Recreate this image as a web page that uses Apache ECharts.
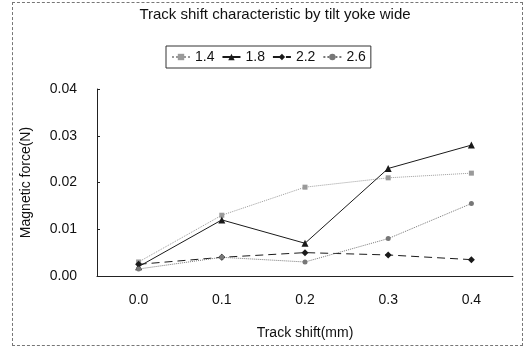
<!DOCTYPE html>
<html>
<head>
<meta charset="utf-8">
<script src="https://cdn.jsdelivr.net/npm/echarts@6/dist/echarts.min.js"></script>
<style>
  html, body { margin: 0; padding: 0; background: #fff; }
  #frame { position: absolute; left: 12px; top: 2px; width: 509px; height: 342px; border: 1px dashed #777; }
  #chart { position: absolute; left: 0; top: 0; width: 525px; height: 349px; }
</style>
</head>
<body>
<div id="frame"></div>
<div id="chart"></div>
<script>
  // track shift (mm)
  let categories = ['0.0', '0.1', '0.2', '0.3', '0.4']
  // magnetic force (N) per tilt yoke width
  let w14 = [0.003, 0.013, 0.019, 0.021, 0.022]
  let w18 = [0.002, 0.012, 0.007, 0.023, 0.028]
  let w22 = [0.0025, 0.004, 0.005, 0.0045, 0.0035]
  let w26 = [0.0015, 0.004, 0.003, 0.008, 0.0155]
  let yTicks = [0, 0.01, 0.02, 0.03, 0.04]

  let chart = echarts.init(document.getElementById('chart'))
  let font = 'Liberation Sans, Arial, sans-serif'

  function line (name, data, color, type, symbol, size) {
    return {
      name: name,
      type: 'line',
      data: data,
      symbol: symbol,
      symbolSize: size,
      itemStyle: { color: color },
      lineStyle: { color: color, width: 1, type: type },
      animation: false
    }
  }

  let options = {
    textStyle: { fontFamily: font, color: '#111' },
    title: {
      text: 'Track shift characteristic by tilt yoke wide',
      left: 270,
      textAlign: 'center',
      top: 2,
      textStyle: { fontSize: 15, fontWeight: 'normal', color: '#111', fontFamily: font }
    },
    legend: {
      top: 46,
      left: 166,
      data: ['1.4', '1.8', '2.2', '2.6'],
      borderColor: '#333',
      borderWidth: 1,
      padding: [4, 5],
      itemGap: 7,
      itemWidth: 18,
      itemHeight: 8,
      textStyle: { fontSize: 14, color: '#111', fontFamily: font }
    },
    grid: { left: 97, right: 12, top: 89, bottom: 73 },
    xAxis: {
      type: 'category',
      data: categories,
      boundaryGap: true,
      name: 'Track shift(mm)',
      nameLocation: 'middle',
      nameGap: 50,
      nameTextStyle: { fontSize: 14, color: '#111' },
      axisLine: { lineStyle: { color: '#222' } },
      axisTick: { inside: true, length: 4, lineStyle: { color: '#222' } },
      axisLabel: { margin: 17, fontSize: 14, color: '#111' }
    },
    yAxis: {
      type: 'value',
      min: 0,
      max: 0.04,
      interval: 0.01,
      name: 'Magnetic force(N)',
      nameLocation: 'middle',
      nameGap: 64,
      nameTextStyle: { fontSize: 14, color: '#111' },
      axisLine: { show: true, lineStyle: { color: '#222' } },
      axisTick: { show: true, inside: true, length: 3, lineStyle: { color: '#222' } },
      splitLine: { show: false },
      axisLabel: {
        margin: 20,
        fontSize: 14,
        color: '#111',
        formatter: function (v) {
          let t = yTicks.find(function (x) { return Math.abs(x - v) < 1e-9 })
          return (t === undefined ? v : t).toFixed(2)
        }
      }
    },
    series: [
      line('1.4', w14, '#9a9a9a', 'dotted', 'rect', 5),
      line('1.8', w18, '#1a1a1a', 'solid', 'triangle', 7),
      line('2.2', w22, '#1a1a1a', [8, 5], 'diamond', 7),
      line('2.6', w26, '#777', 'dotted', 'circle', 5)
    ]
  }
  chart.setOption(options)
</script>
</body>
</html>
